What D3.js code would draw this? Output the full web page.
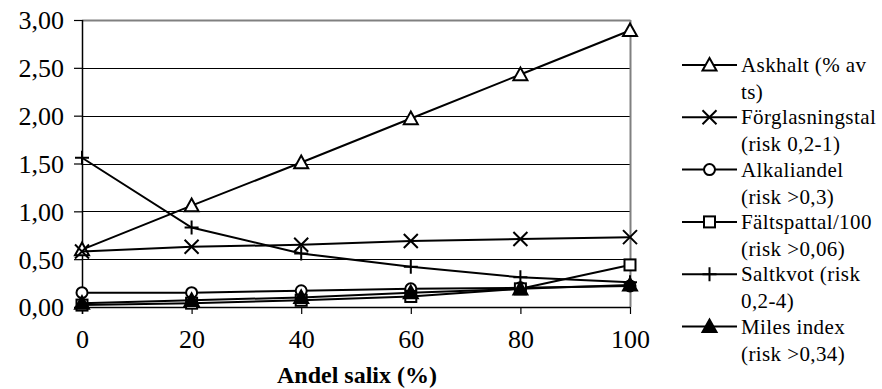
<!DOCTYPE html>
<html><head><meta charset="utf-8"><script src="https://cdn.jsdelivr.net/npm/d3@7"></script></head>
<body style="margin:0">
<script>
'use strict';

// category values on the x axis (Andel salix %)
const categories = [0, 20, 40, 60, 80, 100];
const yTicks = [0, 0.5, 1, 1.5, 2, 2.5, 3];

// series values
const askhalt = [0.60, 1.06, 1.51, 1.97, 2.43, 2.89];
const forglasningstal = [0.58, 0.63, 0.65, 0.69, 0.71, 0.73];
const alkaliandel = [0.15, 0.15, 0.17, 0.19, 0.20, 0.22];
const faltspattal = [0.02, 0.04, 0.07, 0.11, 0.19, 0.44];
const saltkvot = [1.56, 0.83, 0.56, 0.42, 0.31, 0.26];
const milesIndex = [0.04, 0.07, 0.10, 0.15, 0.19, 0.23];

const seriesNames = [
  ["Askhalt (% av", "ts)"],
  ["Förglasningstal", "(risk 0,2-1)"],
  ["Alkaliandel", "(risk >0,3)"],
  ["Fältspattal/100", "(risk >0,06)"],
  ["Saltkvot (risk", "0,2-4)"],
  ["Miles index", "(risk >0,34)"]
];
const seriesValues = [askhalt, forglasningstal, alkaliandel, faltspattal, saltkvot, milesIndex];
const markerTypes = ["triangle", "cross", "circle", "square", "plus", "filledTriangle"];

const serif = "Liberation Serif";

const svg = d3.select("body").append("svg")
  .attr("width", 882)
  .attr("height", 389);

const x = d3.scaleLinear().domain([0, 100]).range([82, 630]);
const y = d3.scaleLinear().domain([0, 3]).range([307, 20]);

// gridlines
svg.append("g")
  .selectAll("line")
  .data(yTicks.filter(d => d > 0 && d < 3))
  .enter().append("line")
  .attr("x1", x(0)).attr("x2", x(100))
  .attr("y1", d => Math.round(y(d)) + 0.5).attr("y2", d => Math.round(y(d)) + 0.5)
  .attr("stroke", "#000").attr("stroke-width", 1);

// plot border top and right, gray
svg.append("line")
  .attr("x1", x(0)).attr("x2", x(100) + 0.5)
  .attr("y1", y(3) + 0.5).attr("y2", y(3) + 0.5)
  .attr("stroke", "#808080").attr("stroke-width", 2);
svg.append("line")
  .attr("x1", x(100) + 0.5).attr("x2", x(100) + 0.5)
  .attr("y1", y(3)).attr("y2", y(0))
  .attr("stroke", "#808080").attr("stroke-width", 2);

// y axis
const gy = svg.append("g")
  .attr("transform", "translate(" + x(0) + ",0)")
  .call(d3.axisLeft(y)
    .tickValues(yTicks)
    .tickSize(8)
    .tickPadding(10)
    .tickFormat(d => d3.format(".2f")(d).replace(".", ",")))
  .attr("font-family", serif)
  .attr("font-size", 26);
gy.select(".domain").remove();
gy.append("line")
  .attr("x1", 0.5).attr("x2", 0.5)
  .attr("y1", y(3)).attr("y2", y(0) + 7)
  .attr("stroke", "#000").attr("stroke-width", 1.5);
gy.selectAll(".tick line").attr("stroke", "#000").attr("stroke-width", 1.2);
gy.selectAll(".tick text")
  .attr("dy", "0.34em")
  .attr("fill", "#000");

// x axis
const gx = svg.append("g")
  .attr("transform", "translate(0," + y(0) + ")")
  .call(d3.axisBottom(x)
    .tickValues(categories)
    .tickSize(7)
    .tickPadding(16)
    .tickFormat(d => d))
  .attr("font-family", serif)
  .attr("font-size", 26);
gx.select(".domain").remove();
gx.append("line")
  .attr("x1", x(0) - 8).attr("x2", x(100))
  .attr("y1", 0.5).attr("y2", 0.5)
  .attr("stroke", "#000").attr("stroke-width", 1.5);
gx.selectAll(".tick line").attr("stroke", "#000").attr("stroke-width", 1.2);
gx.selectAll(".tick text").attr("fill", "#000");

// x axis title
svg.append("text")
  .attr("x", 357)
  .attr("y", 383)
  .attr("text-anchor", "middle")
  .attr("font-family", serif)
  .attr("font-size", 24)
  .attr("font-weight", "bold")
  .text("Andel salix (%)");

// draw a marker at (cx, cy)
function drawMarker(g, type, cx, cy) {
  const s = 7;
  if (type === "triangle" || type === "filledTriangle") {
    g.append("path")
      .attr("d", `M${cx},${cy - s} L${cx + s},${cy + s * 0.8} L${cx - s},${cy + s * 0.8} Z`)
      .attr("fill", type === "filledTriangle" ? "#000" : "#fff")
      .attr("stroke", "#000").attr("stroke-width", 2);
  } else if (type === "cross") {
    g.append("path")
      .attr("d", `M${cx - s},${cy - s} L${cx + s},${cy + s} M${cx - s},${cy + s} L${cx + s},${cy - s}`)
      .attr("stroke", "#000").attr("stroke-width", 2);
  } else if (type === "circle") {
    g.append("circle")
      .attr("cx", cx).attr("cy", cy).attr("r", 5.5)
      .attr("fill", "#fff").attr("stroke", "#000").attr("stroke-width", 2);
  } else if (type === "square") {
    g.append("rect")
      .attr("x", cx - 5.5).attr("y", cy - 5.5)
      .attr("width", 11).attr("height", 11)
      .attr("fill", "#fff").attr("stroke", "#000").attr("stroke-width", 2);
  } else if (type === "plus") {
    g.append("path")
      .attr("d", `M${cx - s},${cy} L${cx + s},${cy} M${cx},${cy - s} L${cx},${cy + s}`)
      .attr("stroke", "#000").attr("stroke-width", 2);
  }
}

// series lines and markers
const line = d3.line()
  .x((d, i) => x(categories[i]))
  .y(d => y(d));

seriesValues.forEach((vals, si) => {
  const g = svg.append("g");
  g.append("path")
    .datum(vals)
    .attr("d", line)
    .attr("fill", "none")
    .attr("stroke", "#000")
    .attr("stroke-width", 2);
  vals.forEach((v, i) => drawMarker(g, markerTypes[si], x(categories[i]), y(v)));
});

// legend
const legendTop = 65, legendStep = 52.3;
seriesNames.forEach((lines, i) => {
  const ly = legendTop + i * legendStep;
  const g = svg.append("g");
  g.append("line")
    .attr("x1", 682).attr("x2", 737)
    .attr("y1", ly).attr("y2", ly)
    .attr("stroke", "#000").attr("stroke-width", 2);
  drawMarker(g, markerTypes[i], 709.5, ly);
  lines.forEach((t, j) => {
    g.append("text")
      .attr("x", 741)
      .attr("y", ly + 7 + j * 27)
      .attr("font-family", serif)
      .attr("font-size", 21)
      .attr("font-weight", "normal")
      .attr("letter-spacing", 0.4)
      .attr("fill", "#000")
      .text(t);
  });
});
</script>
</body></html>
